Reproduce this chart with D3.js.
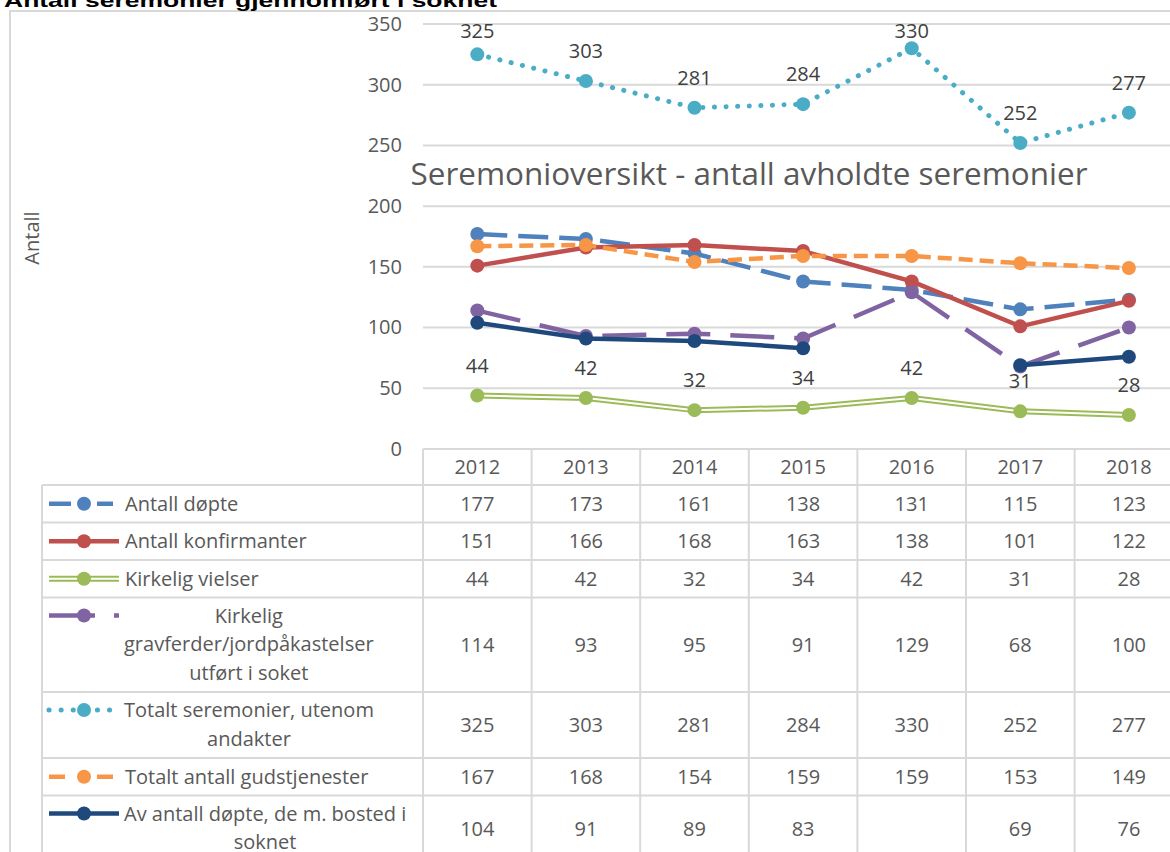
<!DOCTYPE html>
<html><head><meta charset="utf-8">
<script src="https://cdn.jsdelivr.net/npm/d3@7"></script>
<style>body{margin:0;background:#fff;} svg{display:block;font-family:'Open Sans',sans-serif;}</style>
</head><body><svg id="c" width="1170" height="852"></svg>
<script>
// ---- data ----
const years = ["2012","2013","2014","2015","2016","2017","2018"];
const seriesNames = ["Antall døpte","Antall konfirmanter","Kirkelig vielser","Kirkelig gravferder/jordpåkastelser utført i soket","Totalt seremonier, utenom andakter","Totalt antall gudstjenester","Av antall døpte, de m. bosted i soknet"];
const antallDopte = [177,173,161,138,131,115,123];
const antallKonfirmanter = [151,166,168,163,138,101,122];
const kirkeligVielser = [44,42,32,34,42,31,28];
const kirkeligGravferder = [114,93,95,91,129,68,100];
const totaltSeremonier = [325,303,281,284,330,252,277];
const totaltGudstjenester = [167,168,154,159,159,153,149];
const dopteBosted = [104,91,89,83,null,69,76];
const yTicks = [0,50,100,150,200,250,300,350];
const chartTitle = "Seremonioversikt - antall avholdte seremonier";
const sheetTitle = "Antall seremonier gjennomført i soknet";
const yAxisTitle = "Antall";
const labelledSeries = [2,4]; // series with data labels

const seriesValues = [antallDopte,antallKonfirmanter,kirkeligVielser,kirkeligGravferder,totaltSeremonier,totaltGudstjenester,dopteBosted];

// ---- styles ----
const styles = [
  {color:"#4F81BD", width:4.5, dash:"30,11", keyDash:"22,26,16,200", cap:"butt"},
  {color:"#C0504D", width:4.5, dash:null, keyDash:null, cap:"butt"},
  {color:"#9BBB59", width:6, dash:null, keyDash:null, cap:"butt", double:true},
  {color:"#8064A2", width:4.5, dash:"44,20", keyDash:"46,19,5,200", cap:"butt"},
  {color:"#4BACC6", width:5, dash:"0.1,11.5", keyDash:"0.1,12", cap:"round"},
  {color:"#F79646", width:4.5, dash:"14,7", keyDash:"16,32,16,200", cap:"butt"},
  {color:"#1F497D", width:4.5, dash:null, keyDash:null, cap:"butt"}
];
const textColor = "#595959";
const gridColor = "#D9D9D9";
const fs = 20;

const svg = d3.select("#c");
const plotL = 423, colW = 108.6, plotR = plotL + colW*years.length;
const x = d3.scaleBand().domain(years).range([plotL, plotR]);
const y = d3.scaleLinear().domain([0,350]).range([449,24]);
const cx = d => x(d) + x.bandwidth()/2;

// chart border
svg.append("path").attr("d", `M10,852 V11 H1170`).attr("fill","none").attr("stroke",gridColor).attr("stroke-width",2);

// sheet title (partly above the visible area, as in the source)
svg.append("text").attr("x",4).attr("y",7).attr("font-family","'Liberation Sans',Arial,sans-serif")
  .attr("font-weight","bold").attr("font-size",19).attr("fill","#000")
  .attr("textLength",493).attr("lengthAdjust","spacingAndGlyphs").text(sheetTitle);

// gridlines
svg.append("g").selectAll("line").data(yTicks).join("line")
  .attr("x1",plotL).attr("x2",plotR).attr("y1",d=>y(d)).attr("y2",d=>y(d))
  .attr("stroke",gridColor).attr("stroke-width",2);

// y axis
const ya = svg.append("g").attr("transform",`translate(${plotL},0)`)
  .call(d3.axisLeft(y).tickValues(yTicks).tickSize(0).tickPadding(21));
ya.select(".domain").remove();
ya.selectAll("text").attr("font-size",fs).attr("fill",textColor).attr("font-family","'Open Sans',sans-serif");

// y axis title
svg.append("text").attr("transform","translate(32,238) rotate(-90)").attr("text-anchor","middle")
  .attr("dy","0.35em").attr("font-size",fs).attr("fill",textColor).text(yAxisTitle);

// chart title
svg.append("text").attr("x",749).attr("y",185).attr("text-anchor","middle")
  .attr("font-size",31).attr("fill",textColor)
  .attr("textLength",677).attr("lengthAdjust","spacingAndGlyphs").text(chartTitle);

// lines
const line = d3.line().defined(d=>d.v!=null).x(d=>cx(d.k)).y(d=>y(d.v));
const gLines = svg.append("g");
seriesValues.forEach((vals,i)=>{
  const st = styles[i];
  const pts = years.map((k,j)=>({k, v: vals[j]}));
  const g = gLines.append("g");
  g.append("path").attr("d",line(pts)).attr("fill","none").attr("stroke",st.color)
    .attr("stroke-width",st.width).attr("stroke-dasharray",st.dash).attr("stroke-linecap",st.cap)
    .attr("stroke-linejoin","round");
  if (st.double) g.append("path").attr("d",line(pts)).attr("fill","none").attr("stroke","#fff").attr("stroke-width",2);
  g.selectAll("circle").data(pts.filter(d=>d.v!=null)).join("circle")
    .attr("cx",d=>cx(d.k)).attr("cy",d=>y(d.v)).attr("r",7).attr("fill",st.color);
});

// data labels
labelledSeries.forEach(i=>{
  svg.append("g").selectAll("text").data(years.map((k,j)=>({k,v:seriesValues[i][j]}))).join("text")
    .attr("x",d=>cx(d.k)).attr("y",d=>Math.max(y(d.v)-30,31)).attr("dy","0.35em")
    .attr("text-anchor","middle").attr("font-size",fs).attr("fill","#404040").text(d=>d.v);
});

// ---- data table ----
const measure = svg.append("text").attr("font-size",fs).attr("visibility","hidden");
function tw(s){ measure.text(s); return measure.node().getComputedTextLength(); }
const maxW = 296;
function wrap(s){
  if (tw(s) <= maxW) return [s];
  const words = s.split(" "); const lines=[]; let cur="";
  words.forEach(w=>{ const t = cur? cur+" "+w : w; if (tw(t)<=maxW) cur=t; else { if(cur) lines.push(cur); cur=w; } });
  if (cur) lines.push(cur);
  return lines;
}
const tbl = svg.append("g");
const headTop = 449, headBot = 485, lh = 28.5;
// header
tbl.selectAll("text.h").data(years).join("text").attr("class","h")
  .attr("x",d=>cx(d)).attr("y",(headTop+headBot)/2).attr("dy","0.35em").attr("text-anchor","middle")
  .attr("font-size",fs).attr("fill",textColor).text(d=>d);
let rowY = headBot;
const rowTops = [];
seriesNames.forEach((name,i)=>{
  const lines = wrap(name);
  const h = 37.5 + (lines.length-1)*lh;
  rowTops.push(rowY);
  const st = styles[i];
  const firstY = lines.length>1 ? rowY+18 : rowY+h/2;
  // key
  const kg = tbl.append("g");
  kg.append("path").attr("d",`M49,${firstY}H119`).attr("fill","none").attr("stroke",st.color)
    .attr("stroke-width",st.width).attr("stroke-dasharray",st.keyDash).attr("stroke-linecap",st.cap);
  if (st.double) kg.append("path").attr("d",`M49,${firstY}H119`).attr("stroke","#fff").attr("stroke-width",2);
  kg.append("circle").attr("cx",84).attr("cy",firstY).attr("r",7).attr("fill",st.color);
  // label
  const bw = d3.max(lines, tw);
  lines.forEach((ln,j)=>{
    tbl.append("text").attr("x", lines.length>1 ? 124+bw/2 : 125).attr("y",firstY+j*lh).attr("dy","0.35em")
      .attr("text-anchor", lines.length>1?"middle":"start").attr("font-size",fs).attr("fill",textColor).text(ln);
  });
  // values
  years.forEach((k,j)=>{
    const v = seriesValues[i][j];
    if (v==null) return;
    tbl.append("text").attr("x",cx(k)).attr("y",rowY+h/2).attr("dy","0.35em").attr("text-anchor","middle")
      .attr("font-size",fs).attr("fill",textColor).text(v);
  });
  rowY += h;
});
rowTops.push(rowY);
// grid
tbl.append("line").attr("x1",plotL).attr("x2",plotR).attr("y1",headTop).attr("y2",headTop).attr("stroke",gridColor).attr("stroke-width",2);
rowTops.forEach(t=>tbl.append("line").attr("x1",42).attr("x2",plotR).attr("y1",t).attr("y2",t).attr("stroke",gridColor).attr("stroke-width",2));
tbl.append("line").attr("x1",42).attr("x2",42).attr("y1",headBot).attr("y2",rowY).attr("stroke",gridColor).attr("stroke-width",2);
d3.range(years.length+1).forEach(j=>{
  const xx = plotL + j*colW;
  tbl.append("line").attr("x1",xx).attr("x2",xx).attr("y1",headTop).attr("y2",rowY).attr("stroke",gridColor).attr("stroke-width",2);
});
measure.remove();
</script></body></html>
